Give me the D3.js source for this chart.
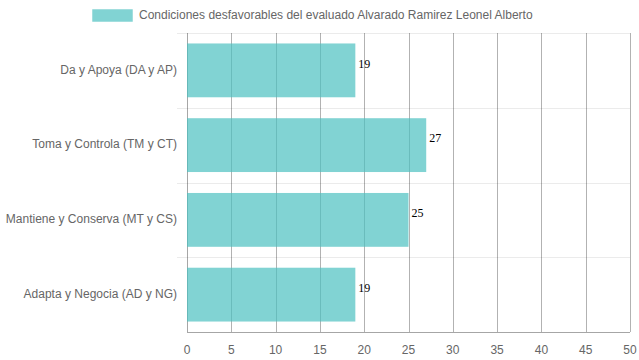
<!DOCTYPE html>
<html><head><meta charset="utf-8">
<script src="https://cdn.jsdelivr.net/npm/d3@7"></script>
<style>body{margin:0;background:#fff}svg{display:block}</style>
</head><body>
<script>
const categories = ["Da y Apoya (DA y AP)", "Toma y Controla (TM y CT)", "Mantiene y Conserva (MT y CS)", "Adapta y Negocia (AD y NG)"];
const values = [19, 27, 25, 19];
const xTicks = [0,5,10,15,20,25,30,35,40,45,50];
const seriesLabel = "Condiciones desfavorables del evaluado Alvarado Ramirez Leonel Alberto";

const W = 639, H = 360;
const m = {left:187, right:9, top:33, bottom:28};
const svg = d3.select("body").append("svg").attr("width",W).attr("height",H);
const x = d3.scaleLinear().domain([0,50]).range([m.left, W-m.right]);
const y = d3.scaleBand().domain(categories).range([m.top, H-m.bottom]);
const bandInner = y.bandwidth()*0.72;

// horizontal grid (category boundaries)
const bounds = categories.map(c=>y(c));
svg.append("g").selectAll("line").data(bounds).join("line")
  .attr("x1", m.left-10).attr("x2", W-m.right)
  .attr("y1", d=>Math.round(d)+0.5).attr("y2", d=>Math.round(d)+0.5)
  .attr("stroke","rgba(0,0,0,0.08)");

// vertical grid
svg.append("g").selectAll("line").data(xTicks).join("line")
  .attr("x1", d=>Math.round(x(d))+0.5).attr("x2", d=>Math.round(x(d))+0.5)
  .attr("y1", m.top).attr("y2", H-m.bottom)
  .attr("stroke", d=> d===0 ? "rgba(0,0,0,0.35)" : "rgba(0,0,0,0.3)");

// bottom axis line
svg.append("line").attr("x1",m.left).attr("x2",W-m.right)
  .attr("y1",H-m.bottom+0.5).attr("y2",H-m.bottom+0.5).attr("stroke","rgba(0,0,0,0.35)");

// bars
svg.append("g").selectAll("rect").data(values).join("rect")
  .attr("x", x(0))
  .attr("y", (d,i)=> y(categories[i]) + (y.bandwidth()-bandInner)/2)
  .attr("width", d=> x(d)-x(0))
  .attr("height", bandInner)
  .attr("fill","rgba(75,192,192,0.7)");

// value labels
svg.append("g").selectAll("text").data(values).join("text")
  .attr("x", d=> x(d)+3)
  .attr("y", (d,i)=> y(categories[i]) + y.bandwidth()/2 - 5.5)
  .attr("dominant-baseline","middle")
  .attr("font-family","'Liberation Serif','Times New Roman',serif")
  .attr("font-size",12).attr("fill","#000")
  .text(d=>d);

// y labels
svg.append("g").selectAll("text").data(categories).join("text")
  .attr("x", m.left-10).attr("y", d=> y(d)+y.bandwidth()/2)
  .attr("text-anchor","end").attr("dominant-baseline","middle")
  .attr("font-family","'Liberation Sans',Arial,sans-serif").attr("font-size",12).attr("fill","#666")
  .text(d=>d);

// x labels
svg.append("g").selectAll("text").data(xTicks).join("text")
  .attr("x", d=>x(d)).attr("y", H-m.bottom+19)
  .attr("text-anchor","middle").attr("dominant-baseline","middle")
  .attr("font-family","'Liberation Sans',Arial,sans-serif").attr("font-size",12).attr("fill","#666")
  .text(d=>d);

// legend
svg.append("rect").attr("x",92.5).attr("y",9.5).attr("width",40).attr("height",12)
  .attr("fill","rgba(75,192,192,0.7)").attr("stroke","rgba(75,192,192,0.25)");
svg.append("text").attr("x",139).attr("y",15.5).attr("dominant-baseline","middle")
  .attr("font-family","'Liberation Sans',Arial,sans-serif").attr("font-size",12).attr("fill","#666")
  .text(seriesLabel);
</script>
</body></html>
